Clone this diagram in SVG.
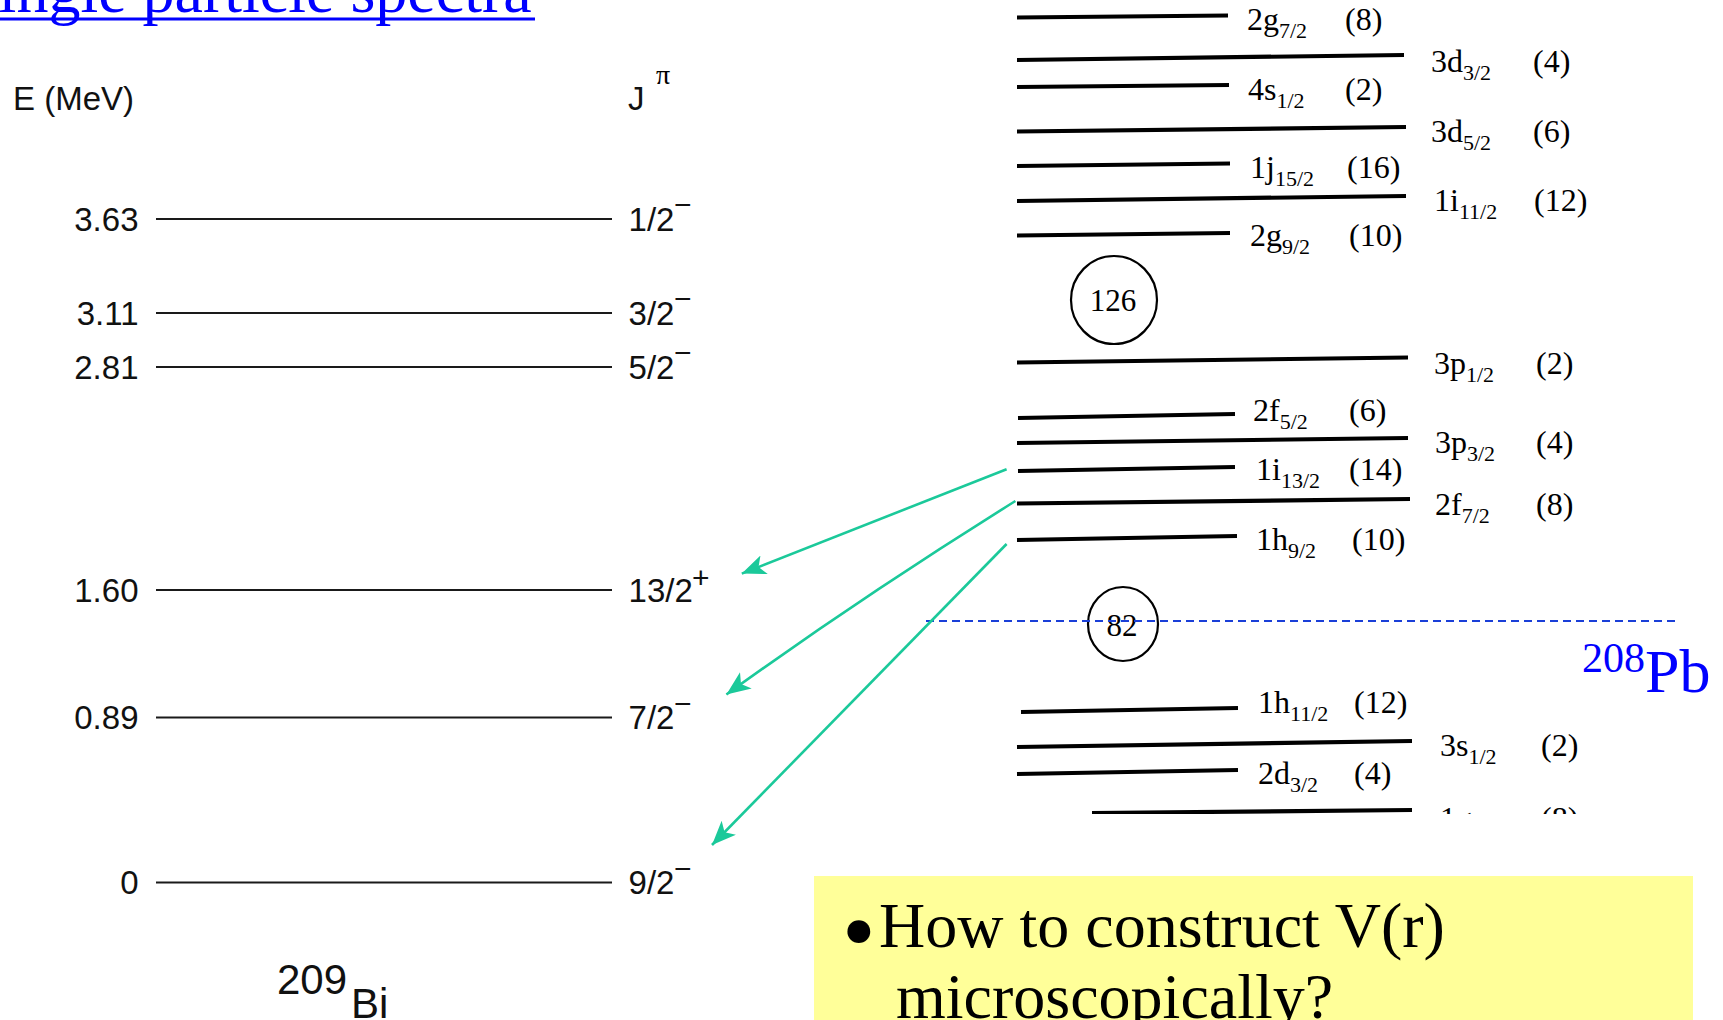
<svg xmlns="http://www.w3.org/2000/svg" width="1723" height="1020" viewBox="0 0 1723 1020">
<defs>
<style>
.sans{font-family:"Liberation Sans",Arial,sans-serif;fill:#111;}
.serif{font-family:"Liberation Serif","Times New Roman",serif;fill:#000;}
.bi{font-size:33px;}
.sup{font-size:30px;}
.lvl{stroke:#1a1a1a;stroke-width:2;}
.pb{stroke:#000;stroke-width:4.2;stroke-linecap:butt;}
.lab{font-size:32px;}
.sub{font-size:22px;}
.arrow{stroke:#1bc99a;stroke-width:2.6;fill:none;marker-end:url(#ah);}
</style>
<marker id="ah" markerUnits="userSpaceOnUse" markerWidth="26" markerHeight="22" refX="24" refY="10" orient="auto">
<path d="M0,0 L24,10 L0,20 L6,10 Z" fill="#1bc99a"/>
</marker>
<clipPath id="pbclip"><rect x="900" y="0" width="823" height="814"/></clipPath>
</defs>
<rect width="1723" height="1020" fill="#fff"/>

<g id="title">
<text class="serif" x="-37" y="12" font-size="64" style="fill:#0000ff">Single particle spectra</text>
<rect x="0" y="17.5" width="535" height="3" fill="#0000ff"/>
</g>

<g id="bi209">
<text class="sans bi" x="13" y="110">E (MeV)</text>
<text class="sans bi" x="628" y="110">J</text>
<text class="serif" x="656" y="84" font-size="28">π</text>

<g id="lv-363"><line class="lvl" x1="156" y1="219" x2="612" y2="219"/><text class="sans bi" x="138.5" y="230.5" text-anchor="end">3.63</text><text class="sans bi" x="628.6" y="230.5">1/2</text><text class="sans sup" x="674" y="215">−</text></g>
<g id="lv-311"><line class="lvl" x1="156" y1="313" x2="612" y2="313"/><text class="sans bi" x="138.5" y="324.5" text-anchor="end">3.11</text><text class="sans bi" x="628.6" y="324.5">3/2</text><text class="sans sup" x="674" y="309">−</text></g>
<g id="lv-281"><line class="lvl" x1="156" y1="367" x2="612" y2="367"/><text class="sans bi" x="138.5" y="378.5" text-anchor="end">2.81</text><text class="sans bi" x="628.6" y="378.5">5/2</text><text class="sans sup" x="674" y="363">−</text></g>
<g id="lv-160"><line class="lvl" x1="156" y1="590" x2="612" y2="590"/><text class="sans bi" x="138.5" y="601.5" text-anchor="end">1.60</text><text class="sans bi" x="628.6" y="601.5">13/2</text><text class="sans sup" x="692" y="588">+</text></g>
<g id="lv-089"><line class="lvl" x1="156" y1="717.5" x2="612" y2="717.5"/><text class="sans bi" x="138.5" y="729" text-anchor="end">0.89</text><text class="sans bi" x="628.6" y="729">7/2</text><text class="sans sup" x="674" y="713.5">−</text></g>
<g id="lv-0"><line class="lvl" x1="156" y1="882.5" x2="612" y2="882.5"/><text class="sans bi" x="138.5" y="894" text-anchor="end">0</text><text class="sans bi" x="628.6" y="894">9/2</text><text class="sans sup" x="674" y="878.5">−</text></g>

<text class="sans" x="277" y="994" font-size="42">209</text>
<text class="sans" x="351" y="1018" font-size="42">Bi</text>
</g>

<g id="pb208" clip-path="url(#pbclip)">
<g id="s-2g72"><line class="pb" x1="1017" y1="17.5" x2="1228" y2="15.5"/><text class="serif lab" x="1247" y="30">2g<tspan class="sub" dy="8">7/2</tspan></text><text class="serif lab" x="1345" y="30">(8)</text></g>
<g id="s-3d32"><line class="pb" x1="1017" y1="60" x2="1404" y2="55"/><text class="serif lab" x="1431" y="72">3d<tspan class="sub" dy="8">3/2</tspan></text><text class="serif lab" x="1533" y="72">(4)</text></g>
<g id="s-4s12"><line class="pb" x1="1017" y1="87" x2="1229" y2="85"/><text class="serif lab" x="1248" y="100">4s<tspan class="sub" dy="8">1/2</tspan></text><text class="serif lab" x="1345" y="100">(2)</text></g>
<g id="s-3d52"><line class="pb" x1="1017" y1="131.5" x2="1406" y2="127"/><text class="serif lab" x="1431" y="142">3d<tspan class="sub" dy="8">5/2</tspan></text><text class="serif lab" x="1533" y="142">(6)</text></g>
<g id="s-1j152"><line class="pb" x1="1017" y1="166" x2="1230" y2="163.5"/><text class="serif lab" x="1250" y="178">1j<tspan class="sub" dy="8">15/2</tspan></text><text class="serif lab" x="1347" y="178">(16)</text></g>
<g id="s-1i112"><line class="pb" x1="1017" y1="201" x2="1406" y2="196"/><text class="serif lab" x="1434" y="211">1i<tspan class="sub" dy="8">11/2</tspan></text><text class="serif lab" x="1534" y="211">(12)</text></g>
<g id="s-2g92"><line class="pb" x1="1017" y1="235.5" x2="1230" y2="233"/><text class="serif lab" x="1250" y="246">2g<tspan class="sub" dy="8">9/2</tspan></text><text class="serif lab" x="1349" y="246">(10)</text></g>
<g id="magic-126"><ellipse cx="1114" cy="300" rx="43" ry="44" fill="none" stroke="#000" stroke-width="2.2"/><text class="serif" x="1113" y="311" font-size="31" text-anchor="middle">126</text></g>
<g id="s-3p12"><line class="pb" x1="1017" y1="362.5" x2="1408" y2="357.5"/><text class="serif lab" x="1434" y="374">3p<tspan class="sub" dy="8">1/2</tspan></text><text class="serif lab" x="1536" y="374">(2)</text></g>
<g id="s-2f52"><line class="pb" x1="1018" y1="418" x2="1235" y2="414"/><text class="serif lab" x="1253" y="421">2f<tspan class="sub" dy="8">5/2</tspan></text><text class="serif lab" x="1349" y="421">(6)</text></g>
<g id="s-3p32"><line class="pb" x1="1017" y1="443" x2="1408" y2="438"/><text class="serif lab" x="1435" y="453">3p<tspan class="sub" dy="8">3/2</tspan></text><text class="serif lab" x="1536" y="453">(4)</text></g>
<g id="s-1i132"><line class="pb" x1="1018" y1="471" x2="1235" y2="467"/><text class="serif lab" x="1256" y="480">1i<tspan class="sub" dy="8">13/2</tspan></text><text class="serif lab" x="1349" y="480">(14)</text></g>
<g id="s-2f72"><line class="pb" x1="1017" y1="503.5" x2="1410" y2="499"/><text class="serif lab" x="1435" y="515">2f<tspan class="sub" dy="8">7/2</tspan></text><text class="serif lab" x="1536" y="515">(8)</text></g>
<g id="s-1h92"><line class="pb" x1="1017" y1="540" x2="1237" y2="536"/><text class="serif lab" x="1256" y="550">1h<tspan class="sub" dy="8">9/2</tspan></text><text class="serif lab" x="1352" y="550">(10)</text></g>
<g id="magic-82"><ellipse cx="1123" cy="624" rx="35" ry="37" fill="none" stroke="#000" stroke-width="2.2"/><text class="serif" x="1122" y="636" font-size="31" text-anchor="middle">82</text></g>
<g id="s-1h112"><line class="pb" x1="1021" y1="712" x2="1238" y2="708"/><text class="serif lab" x="1258" y="713">1h<tspan class="sub" dy="8">11/2</tspan></text><text class="serif lab" x="1354" y="713">(12)</text></g>
<g id="s-3s12"><line class="pb" x1="1017" y1="747" x2="1412" y2="741"/><text class="serif lab" x="1440" y="756">3s<tspan class="sub" dy="8">1/2</tspan></text><text class="serif lab" x="1541" y="756">(2)</text></g>
<g id="s-2d32"><line class="pb" x1="1017" y1="774" x2="1238" y2="770"/><text class="serif lab" x="1258" y="784">2d<tspan class="sub" dy="8">3/2</tspan></text><text class="serif lab" x="1354" y="784">(4)</text></g>
<g id="s-1g72"><line class="pb" x1="1092" y1="813" x2="1412" y2="810"/><text class="serif lab" x="1440" y="829">1g<tspan class="sub" dy="8">7/2</tspan></text><text class="serif lab" x="1541" y="829">(8)</text></g>
</g>

<g id="shell-gap">
<line x1="926" y1="621" x2="1676" y2="621" stroke="#1a3fd8" stroke-width="2" stroke-dasharray="8,5"/>
<text class="serif" x="1582" y="672" font-size="42" style="fill:#0000ff">208</text>
<text class="serif" x="1645" y="692" font-size="62" style="fill:#0000ff">Pb</text>
</g>

<g id="connectors">
<line class="arrow" x1="1006.6" y1="469.2" x2="741.8" y2="573.6"/>
<path class="arrow" d="M1015.4,501 Q860,598 726.4,694.5"/>
<line class="arrow" x1="1006.6" y1="544" x2="712" y2="845"/>
</g>

<g id="note">
<rect x="814" y="876" width="879" height="150" fill="#ffff99"/>
<text class="serif" x="842" y="963" font-size="96">•</text>
<text class="serif" x="879" y="947" font-size="64">How to construct V(r)</text>
<text class="serif" x="896" y="1018" font-size="64">microscopically?</text>
</g>
</svg>
